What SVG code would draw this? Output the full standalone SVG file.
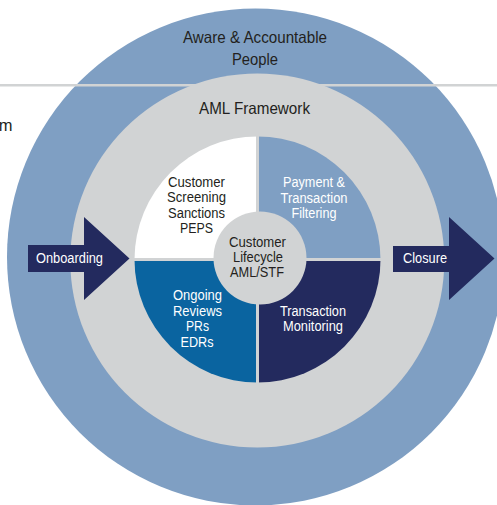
<svg xmlns="http://www.w3.org/2000/svg" width="497" height="505" viewBox="0 0 497 505">
<style>
text{font-family:"Liberation Sans",Arial,sans-serif;text-anchor:middle}
.dk{fill:#231f20}
.wt{fill:#ffffff}
.f16{font-size:16.5px}
.f14{font-size:14px}
</style>
<rect width="497" height="505" fill="#ffffff"/>
<text x="12.5" y="131" class="dk f16" style="text-anchor:end">m</text>
<g id="people">
<circle cx="255.5" cy="257" r="248.5" fill="#7f9fc3"/>
<text x="255" y="43" class="dk f16" textLength="144" lengthAdjust="spacingAndGlyphs">Aware &amp; Accountable</text>
<text x="255" y="65" class="dk f16" textLength="46" lengthAdjust="spacingAndGlyphs">People</text>
</g>
<line x1="0" y1="85.3" x2="497" y2="85.3" stroke="#d1d3d4" stroke-width="2.6"/>
<g id="framework">
<circle cx="257.3" cy="260.5" r="187" fill="#d1d3d4"/>
<text x="254.5" y="114" class="dk f16" textLength="111" lengthAdjust="spacingAndGlyphs">AML Framework</text>
</g>
<g id="screening">
<path d="M257.5 259.5 L134.5 259.5 A123 123 0 0 1 257.5 136.5 Z" fill="#ffffff"/>
<text x="196.5" y="187" class="dk f14" textLength="57" lengthAdjust="spacingAndGlyphs">Customer</text>
<text x="196.5" y="202" class="dk f14" textLength="59" lengthAdjust="spacingAndGlyphs">Screening</text>
<text x="196.5" y="218" class="dk f14" textLength="57" lengthAdjust="spacingAndGlyphs">Sanctions</text>
<text x="196.5" y="233" class="dk f14" textLength="33" lengthAdjust="spacingAndGlyphs">PEPS</text>
</g>
<g id="filtering">
<path d="M257.5 259.5 L257.5 136.5 A123 123 0 0 1 380.5 259.5 Z" fill="#7f9fc3"/>
<text x="314" y="187" class="wt f14" textLength="62" lengthAdjust="spacingAndGlyphs">Payment &amp;</text>
<text x="314" y="203" class="wt f14" textLength="67" lengthAdjust="spacingAndGlyphs">Transaction</text>
<text x="314" y="218" class="wt f14" textLength="45" lengthAdjust="spacingAndGlyphs">Filtering</text>
</g>
<g id="reviews">
<path d="M257.5 259.5 L257.5 382.5 A123 123 0 0 1 134.5 259.5 Z" fill="#0a64a0"/>
<text x="197.5" y="300" class="wt f14" textLength="49" lengthAdjust="spacingAndGlyphs">Ongoing</text>
<text x="197.5" y="316" class="wt f14" textLength="49" lengthAdjust="spacingAndGlyphs">Reviews</text>
<text x="197.5" y="331" class="wt f14" textLength="23" lengthAdjust="spacingAndGlyphs">PRs</text>
<text x="197" y="347" class="wt f14" textLength="33" lengthAdjust="spacingAndGlyphs">EDRs</text>
</g>
<g id="monitoring">
<path d="M257.5 259.5 L380.5 259.5 A123 123 0 0 1 257.5 382.5 Z" fill="#232a5e"/>
<text x="313" y="316" class="wt f14" textLength="66" lengthAdjust="spacingAndGlyphs">Transaction</text>
<text x="313" y="331" class="wt f14" textLength="60" lengthAdjust="spacingAndGlyphs">Monitoring</text>
</g>
<rect x="256" y="134" width="3" height="251" fill="#d1d3d4"/>
<rect x="132" y="258" width="251" height="3" fill="#d1d3d4"/>
<g id="lifecycle">
<circle cx="260" cy="258" r="46.5" fill="#d1d3d4"/>
<text x="257.5" y="247" class="dk f14" textLength="57" lengthAdjust="spacingAndGlyphs">Customer</text>
<text x="258" y="262" class="dk f14" textLength="50" lengthAdjust="spacingAndGlyphs">Lifecycle</text>
<text x="257" y="277" class="dk f14" textLength="54" lengthAdjust="spacingAndGlyphs">AML/STF</text>
</g>
<g id="onboarding">
<path d="M28 245 L84 245 L84 217 L129.5 258.5 L84 300 L84 272 L28 272 Z" fill="#232a5e"/>
<text x="69.5" y="263" class="wt f14" textLength="67" lengthAdjust="spacingAndGlyphs">Onboarding</text>
</g>
<g id="closure">
<path d="M393 246 L449 246 L449 217 L494.5 258.5 L449 300 L449 272 L393 272 Z" fill="#232a5e"/>
<text x="425" y="262.5" class="wt f14" textLength="44" lengthAdjust="spacingAndGlyphs">Closure</text>
</g>
<g id="connectors"/>
</svg>
